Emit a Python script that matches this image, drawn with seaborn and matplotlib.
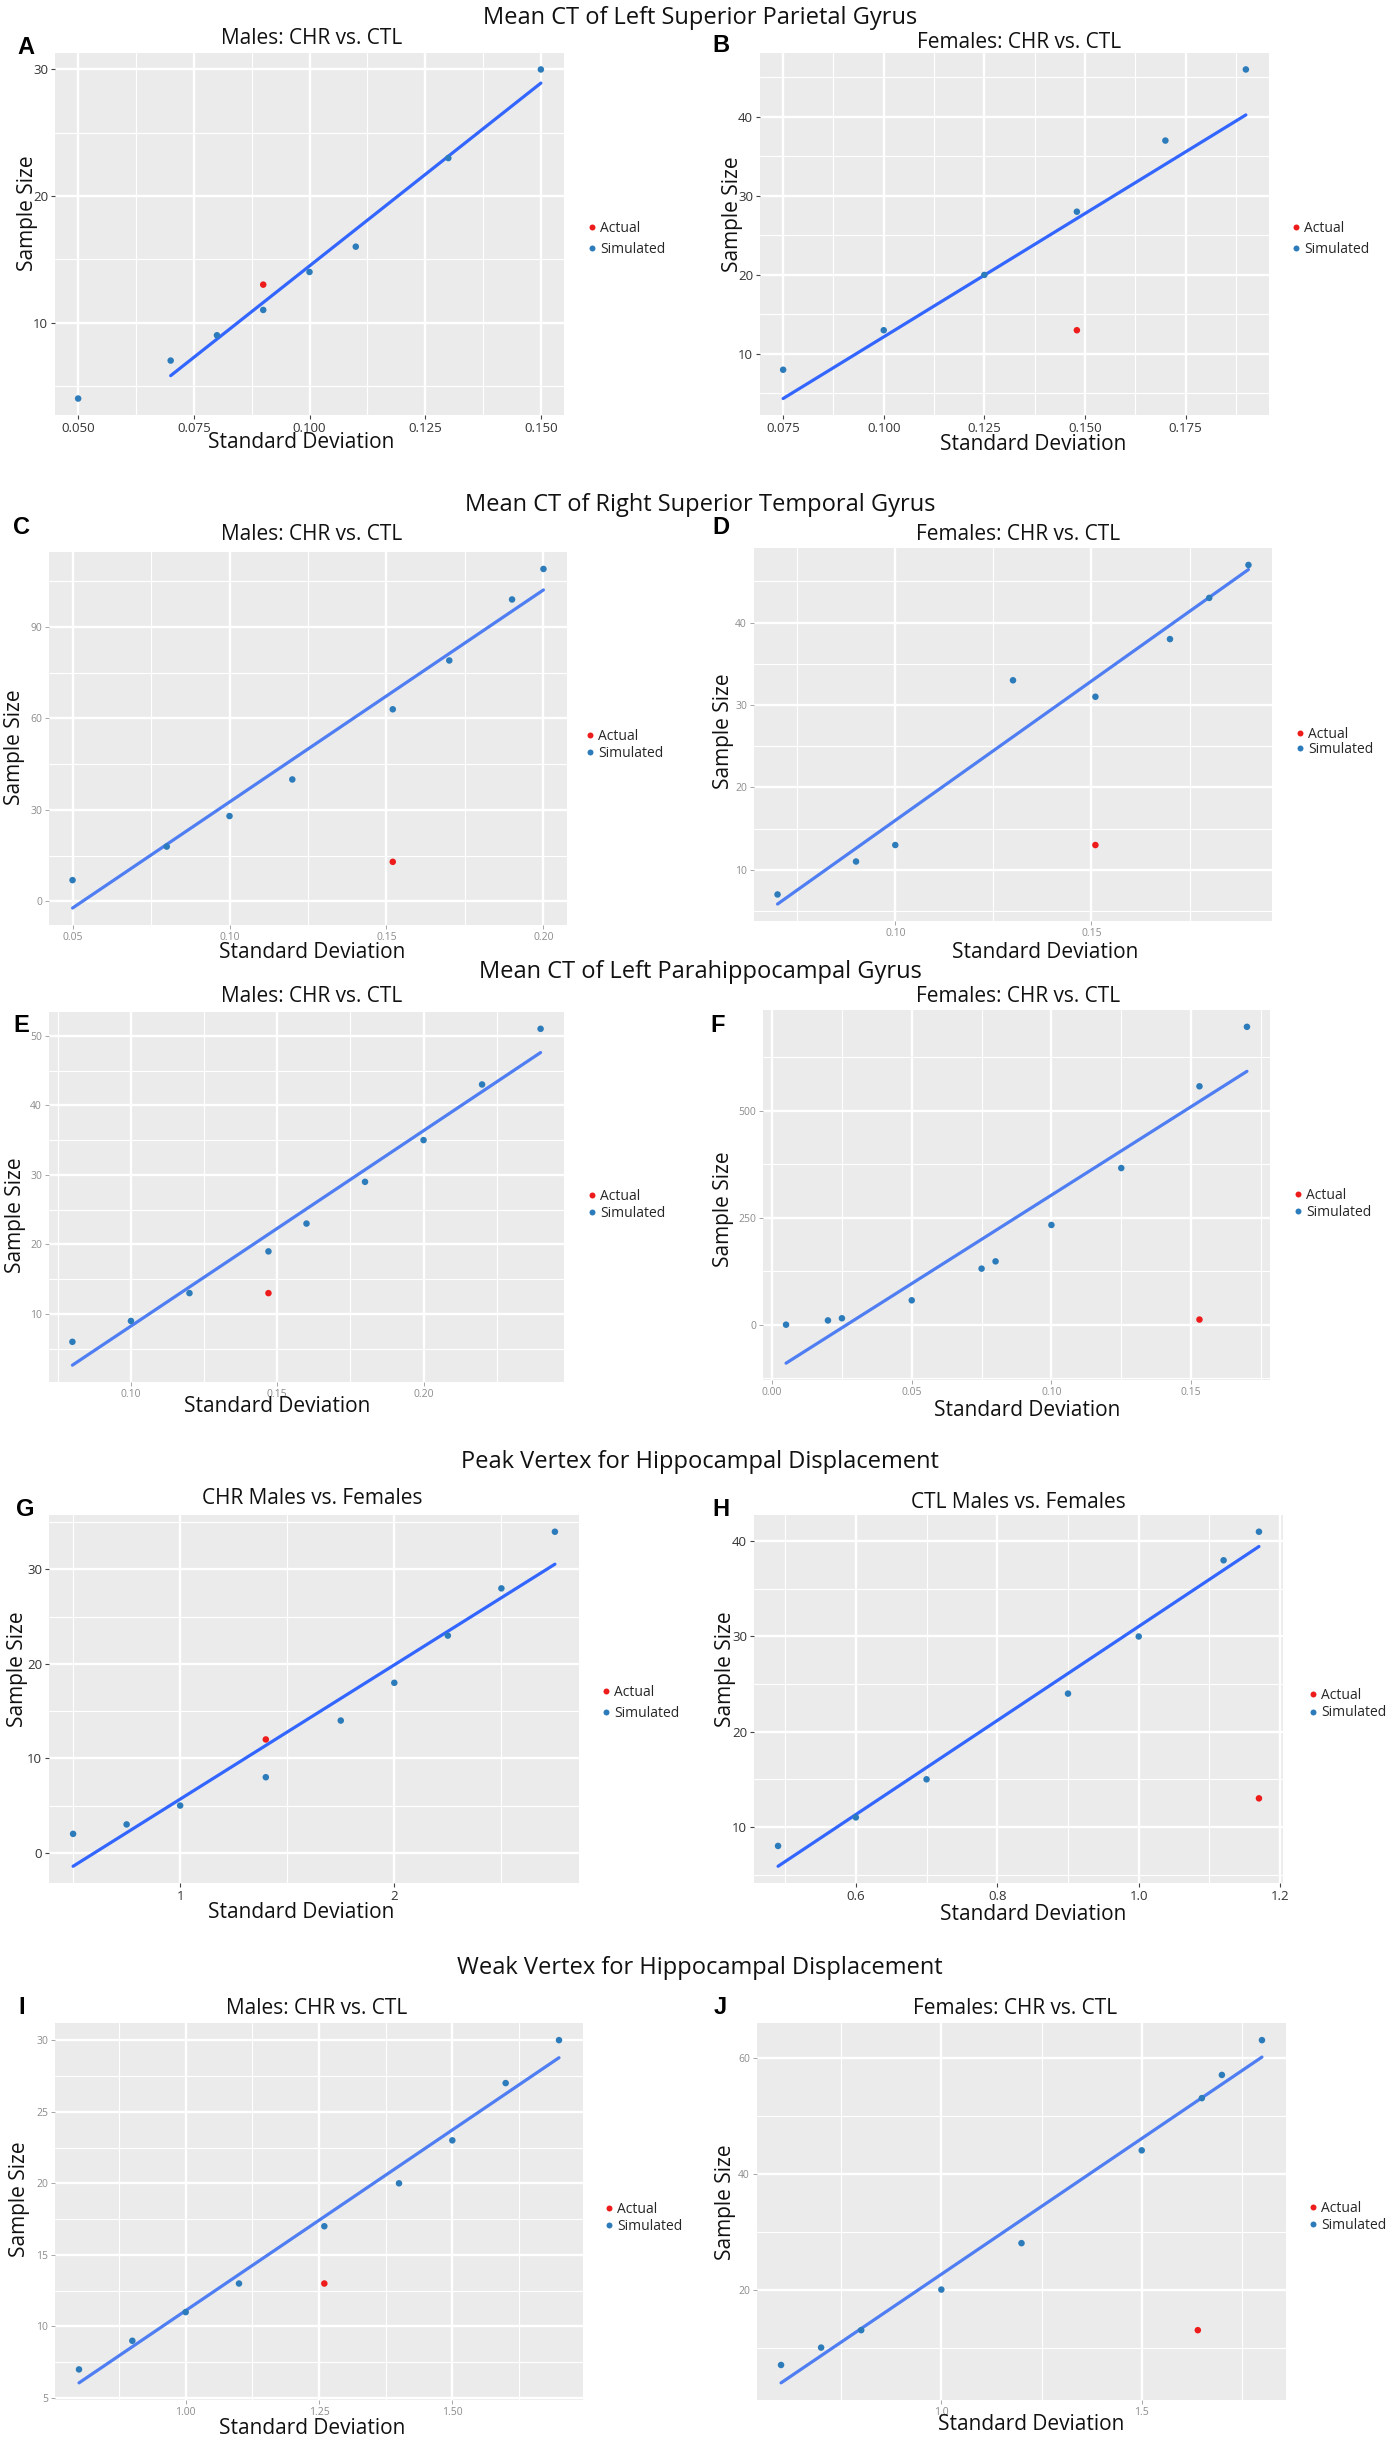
import numpy as np
import pandas as pd
import matplotlib
matplotlib.use("Agg")
import matplotlib.pyplot as plt
from matplotlib.lines import Line2D
from matplotlib.ticker import MultipleLocator, AutoMinorLocator, FormatStrFormatter
import seaborn as sns

# ---------------- data ----------------
section_titles = ["Mean CT of Left Superior Parietal Gyrus",
                  "Mean CT of Right Superior Temporal Gyrus",
                  "Mean CT of Left Parahippocampal Gyrus",
                  "Peak Vertex for Hippocampal Displacement",
                  "Weak Vertex for Hippocampal Displacement"]
panel_letters = ["A", "B", "C", "D", "E", "F", "G", "H", "I", "J"]
subtitles = ["Males: CHR vs. CTL", "Females: CHR vs. CTL",
             "Males: CHR vs. CTL", "Females: CHR vs. CTL",
             "Males: CHR vs. CTL", "Females: CHR vs. CTL",
             "CHR Males vs. Females", "CTL Males vs. Females",
             "Males: CHR vs. CTL", "Females: CHR vs. CTL"]
legend_labels = ["Actual", "Simulated"]

A_sd = [0.05, 0.07, 0.08, 0.09, 0.10, 0.11, 0.13, 0.15]
A_n = [4, 7, 9, 11, 14, 16, 23, 30]
A_act_sd = [0.09]
A_act_n = [13]

B_sd = [0.075, 0.10, 0.125, 0.148, 0.17, 0.19]
B_n = [8, 13, 20, 28, 37, 46]
B_act_sd = [0.148]
B_act_n = [13]

C_sd = [0.05, 0.08, 0.10, 0.12, 0.152, 0.17, 0.19, 0.20]
C_n = [7, 18, 28, 40, 63, 79, 99, 109]
C_act_sd = [0.152]
C_act_n = [13]

D_sd = [0.07, 0.09, 0.10, 0.13, 0.151, 0.17, 0.18, 0.19]
D_n = [7, 11, 13, 33, 31, 38, 43, 47]
D_act_sd = [0.151]
D_act_n = [13]

E_sd = [0.08, 0.10, 0.12, 0.147, 0.16, 0.18, 0.20, 0.22, 0.24]
E_n = [6, 9, 13, 19, 23, 29, 35, 43, 51]
E_act_sd = [0.147]
E_act_n = [13]

F_sd = [0.005, 0.02, 0.025, 0.05, 0.075, 0.08, 0.10, 0.125, 0.153, 0.17]
F_n = [0, 10, 15, 57, 131, 148, 233, 366, 557, 696]
F_act_sd = [0.153]
F_act_n = [12]

G_sd = [0.5, 0.75, 1.0, 1.4, 1.75, 2.0, 2.25, 2.5, 2.75]
G_n = [2, 3, 5, 8, 14, 18, 23, 28, 34]
G_act_sd = [1.4]
G_act_n = [12]

H_sd = [0.49, 0.6, 0.7, 0.9, 1.0, 1.12, 1.17]
H_n = [8, 11, 15, 24, 30, 38, 41]
H_act_sd = [1.17]
H_act_n = [13]

I_sd = [0.8, 0.9, 1.0, 1.1, 1.26, 1.4, 1.5, 1.6, 1.7]
I_n = [7, 9, 11, 13, 17, 20, 23, 27, 30]
I_act_sd = [1.26]
I_act_n = [13]

J_sd = [0.6, 0.7, 0.8, 1.0, 1.2, 1.5, 1.65, 1.7, 1.8]
J_n = [7, 10, 13, 20, 28, 44, 53, 57, 63]
J_act_sd = [1.64]
J_act_n = [13]

panels = [
    (A_sd, A_n, A_act_sd, A_act_n),
    (B_sd, B_n, B_act_sd, B_act_n),
    (C_sd, C_n, C_act_sd, C_act_n),
    (D_sd, D_n, D_act_sd, D_act_n),
    (E_sd, E_n, E_act_sd, E_act_n),
    (F_sd, F_n, F_act_sd, F_act_n),
    (G_sd, G_n, G_act_sd, G_act_n),
    (H_sd, H_n, H_act_sd, H_act_n),
    (I_sd, I_n, I_act_sd, I_act_n),
    (J_sd, J_n, J_act_sd, J_act_n),
]

# ---------------- style / layout ----------------
W, H = 1400, 2441
sns.set_theme(style="darkgrid")
plt.rcParams['font.family'] = ['Open Sans', 'DejaVu Sans']

RED = "#EE1B1B"
BLUE = "#2C7BBA"
LINE_DARK = "#3366FF"
LINE_LIGHT = "#4F7EF2"

# axes rectangles in pixels: left, top, right, bottom
rects = [(55, 53, 564, 415), (760, 53, 1269, 415),
         (49, 552, 567, 925), (754, 548, 1272, 921),
         (49, 1012, 564, 1382), (763, 1010, 1270, 1380),
         (49, 1515, 579, 1883), (754, 1515, 1283, 1883),
         (55, 2023, 583, 2400), (757, 2023, 1286, 2400)]
title_y = [18, 505, 972, 1462, 1968]
sub_pos = [(312, 39), (1019, 43), (312, 535), (1018, 535), (312, 997),
           (1018, 997), (312, 1498), (1018, 1502), (317, 2009), (1015, 2009)]
letter_pos = [(17, 47), (712, 45), (13, 528), (712, 528), (13, 1025),
              (710, 1025), (16, 1510), (712, 1510), (18, 2008), (714, 2008)]
xlab_pos = [(301, 442), (1033, 445), (312, 953), (1045, 953), (277, 1407),
            (1027, 1411), (301, 1912), (1033, 1914), (312, 2428), (1031, 2424)]
ylab_pos = [(27, 213), (732, 214), (15, 747), (723, 731), (16, 1215),
            (723, 1209), (18, 1669), (726, 1669), (20, 2199), (726, 2202)]
leg_pos = [(582, 239), (1286, 239), (580, 745), (1290, 742), (582, 1205),
           (1288, 1204), (596, 1703), (1303, 1704), (599, 2218), (1303, 2217)]
leg_spacing = [0.45, 0.45, 0.15, 0.0, 0.1, 0.15, 0.45, 0.2, 0.15, 0.15]
x_step = [0.025, 0.025, 0.05, 0.05, 0.05, 0.05, 1, 0.2, 0.25, 0.5]
x_fmt = ['%.3f', '%.3f', '%.2f', '%.2f', '%.2f', '%.2f', '%d', '%.1f', '%.2f', '%.1f']
y_step = [10, 10, 30, 10, 10, 250, 10, 10, 5, 20]
dark_ticks = [True, True, False, False, False, False, True, True, False, False]
# which points enter the fitted line
fit_mode = ['sim_from2', 'all', 'sim', 'sim', 'sim', 'sim', 'sim', 'sim', 'sim', 'sim']

fig = plt.figure(figsize=(W / 100, H / 100), dpi=100)
fig.patch.set_facecolor('white')

for i, (sd, n, asd, an) in enumerate(panels):
    l, t, r, b = rects[i]
    ax = fig.add_axes([l / W, 1 - b / H, (r - l) / W, (b - t) / H])
    ax.set_facecolor('#EBEBEB')
    df = pd.DataFrame({'sd': list(sd) + list(asd),
                       'n': list(n) + list(an),
                       'type': ['Simulated'] * len(sd) + ['Actual'] * len(asd)})
    if fit_mode[i] == 'all':
        fit = df
    elif fit_mode[i] == 'sim_from2':
        fit = df[df['type'] == 'Simulated'].iloc[1:]
    else:
        fit = df[df['type'] == 'Simulated']
    lc = LINE_DARK if dark_ticks[i] else LINE_LIGHT
    sns.regplot(data=fit, x='sd', y='n', scatter=False, ci=None, truncate=True,
                ax=ax, line_kws=dict(color=lc, lw=2.3, zorder=2))
    sns.scatterplot(data=df, x='sd', y='n', hue='type',
                    hue_order=['Actual', 'Simulated'],
                    palette={'Actual': RED, 'Simulated': BLUE},
                    s=22, linewidth=0, ax=ax, legend=False, zorder=3)
    ax.margins(x=0.05, y=0.05)
    ax.autoscale_view()
    ax.set_xlabel('')
    ax.set_ylabel('')
    ax.xaxis.set_major_locator(MultipleLocator(x_step[i]))
    ax.xaxis.set_minor_locator(AutoMinorLocator(2))
    ax.yaxis.set_major_locator(MultipleLocator(y_step[i]))
    ax.yaxis.set_minor_locator(AutoMinorLocator(2))
    ax.xaxis.set_major_formatter(FormatStrFormatter(x_fmt[i]))
    ax.yaxis.set_major_formatter(FormatStrFormatter('%d'))
    ax.grid(which='major', color='white', lw=1.7)
    ax.grid(which='minor', color='white', lw=0.8)
    ax.set_axisbelow(True)
    for s in ax.spines.values():
        s.set_visible(False)
    if dark_ticks[i]:
        ax.tick_params(which='major', length=3, width=0.8, color='#444444',
                       labelsize=9.5, labelcolor='#333333', pad=2,
                       bottom=True, left=True)
    else:
        ax.tick_params(which='major', length=3, width=0.6, color='#999999',
                       labelsize=7.5, labelcolor='#8C8C8C', pad=2,
                       bottom=True, left=True)
    ax.tick_params(which='minor', length=0)

    handles = [Line2D([], [], ls='none', marker='o', ms=4.3, mec='none', mfc=RED),
               Line2D([], [], ls='none', marker='o', ms=4.3, mec='none', mfc=BLUE)]
    lx, ly = leg_pos[i]
    ax.legend(handles, legend_labels, loc='center left',
              bbox_to_anchor=(lx / W, 1 - ly / H), bbox_transform=fig.transFigure,
              frameon=False, fontsize=10, handletextpad=0.1, handlelength=1.0,
              labelspacing=leg_spacing[i], borderpad=0.2, borderaxespad=0)

    # texts
    sx, sy = sub_pos[i]
    fig.text(sx / W, 1 - sy / H, subtitles[i], ha='center', va='center',
             fontsize=15, color='#111111')
    px, py = letter_pos[i]
    fig.text(px / W, 1 - py / H, panel_letters[i], ha='left', va='center',
             fontsize=17, fontweight='bold', family=['Liberation Sans', 'DejaVu Sans'],
             color='black')
    xx, xy = xlab_pos[i]
    fig.text(xx / W, 1 - xy / H, 'Standard Deviation', ha='center', va='center',
             fontsize=15, color='#111111')
    yx, yy = ylab_pos[i]
    fig.text(yx / W, 1 - yy / H, 'Sample Size', ha='center', va='center',
             rotation=90, fontsize=15, color='#111111')

for k, tt in enumerate(section_titles):
    fig.text(0.5, 1 - title_y[k] / H, tt, ha='center', va='center',
             fontsize=17, color='#111111')

fig.savefig('out.png', dpi=100, facecolor='white')
